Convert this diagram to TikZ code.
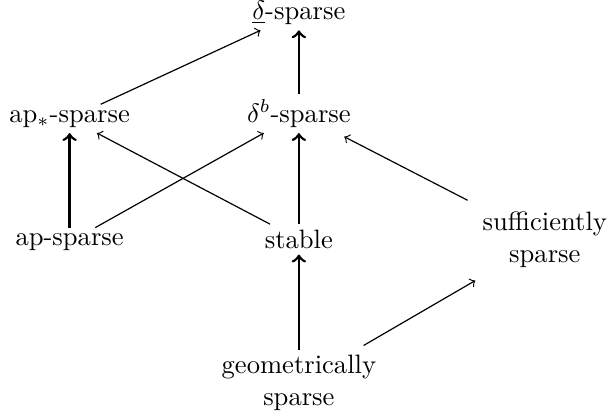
\documentclass[tikz,border=0pt]{standalone}
\usepackage{amsmath}
\usetikzlibrary{arrows}

\begin{document}
\begin{tikzpicture}[
  lbl/.style={inner sep=2pt, align=center, anchor=base},
  strong/.style={->, line width=1pt},
  weak/.style={->, line width=0.45pt}
]
\useasboundingbox (-3.95,-3.926) rectangle (4.085,1.613);
\node[lbl] (db) at (0,0) {$\delta^b$-sparse};
\node[lbl] (del) at (0,1.36) {$\underline{\delta}$-sparse};
\node[lbl] (aps) at (-3.03,0) {ap$_*$-sparse};
\node[lbl] (ap) at (-3.03,-1.63) {ap-sparse};
\node[lbl] (stable) at (0,-1.67) {stable};
\node[lbl, anchor=center] (suff) at (3.25,-1.56) {sufficiently\\sparse};
\node[lbl, anchor=center] (geom) at (0,-3.45) {geometrically\\sparse};

\draw[strong] (db) -- (del);
\draw[weak] (aps) -- (del);
\draw[strong] (ap) -- (aps);
\draw[weak] (ap) -- (db);
\draw[weak] (stable) -- (aps);
\draw[strong] (stable) -- (db);
\draw[weak, shorten <=5pt, shorten >=3pt] (suff) -- (db);
\draw[strong] (geom) -- (stable);
\draw[weak, shorten <=3pt, shorten >=5pt] (geom) -- (suff);
\end{tikzpicture}
\end{document}
